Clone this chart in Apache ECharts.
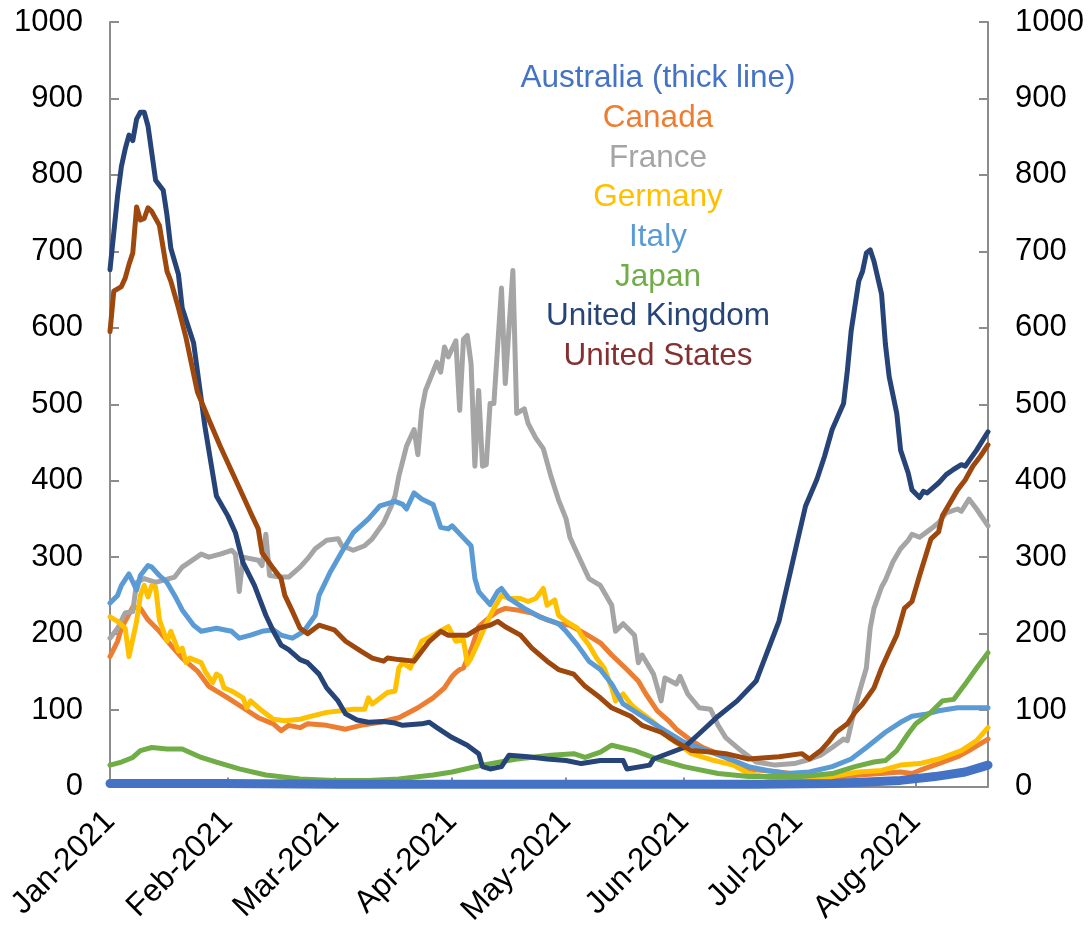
<!DOCTYPE html>
<html>
<head>
<meta charset="utf-8">
<script src="https://cdn.jsdelivr.net/npm/echarts@6/dist/echarts.min.js"></script>
<style>
html,body{margin:0;padding:0;background:#fff;}
#chart{width:1089px;height:929px;}
</style>
</head>
<body>
<div id="chart"></div>
<script>
// x values are day offsets from 1 Jan 2021
const monthStarts = [0, 31, 59, 90, 120, 151, 181, 212];
const monthLabels = ['Jan-2021','Feb-2021','Mar-2021','Apr-2021','May-2021','Jun-2021','Jul-2021','Aug-2021'];
const yTicks = [0,100,200,300,400,500,600,700,800,900,1000];

const seriesNames = ['Australia','Canada','France','Germany','Italy','Japan','United Kingdom','United States'];
const legendLabels = ['Australia (thick line)','Canada','France','Germany','Italy','Japan','United Kingdom','United States'];

const australia = [[0,4],[30,4],[60,3],[90,3],[120,3],[150,3],[170,3],[190,4],[199,6],[208,8],[217,13],[225,19],[231,28]];

const canada = [[0,170],[2,190],[3,207],[6,235],[8,233],[10,218],[13,203],[16,185],[19,168],[23,151],[26,131],[31,116],[35,103],[39,90],[43,82],[45,73],[47,80],[50,77],[52,82],[57,80],[62,75],[66,80],[71,84],[76,90],[81,103],[85,116],[88,129],[90,144],[91,149],[92,153],[93,155],[95,179],[97,209],[100,222],[102,229],[104,233],[107,231],[111,227],[115,218],[118,213],[121,211],[125,200],[129,188],[132,172],[136,153],[139,138],[141,121],[144,99],[147,86],[149,75],[153,60],[156,51],[161,41],[164,32],[168,23],[176,19],[182,15],[187,12],[192,12],[197,15],[203,17],[208,19],[211,17],[213,21],[218,30],[223,39],[226,47],[231,62]];

const france = [[0,194],[2,207],[4,227],[6,229],[7,267],[9,272],[12,267],[17,274],[19,287],[24,304],[26,300],[29,304],[32,309],[33,304],[34,255],[35,300],[39,296],[40,289],[41,330],[42,276],[45,274],[47,274],[50,287],[52,298],[54,311],[57,322],[60,324],[61,315],[64,309],[67,315],[69,324],[72,345],[74,367],[75,380],[76,406],[78,445],[80,467],[81,434],[82,492],[83,518],[86,555],[87,542],[88,575],[89,562],[91,583],[92,492],[93,585],[94,590],[95,553],[96,419],[97,518],[98,419],[99,421],[100,501],[101,501],[103,652],[104,527],[106,675],[107,488],[109,494],[110,475],[112,456],[114,442],[116,406],[118,375],[120,350],[121,326],[122,315],[126,272],[129,263],[132,237],[133,203],[135,213],[138,198],[139,162],[140,172],[143,147],[145,112],[146,142],[149,134],[150,144],[152,121],[155,103],[158,101],[160,80],[162,64],[166,47],[170,32],[175,28],[180,30],[183,34],[187,41],[190,51],[193,62],[194,60],[196,103],[197,121],[199,155],[200,207],[201,233],[203,261],[204,270],[206,294],[208,311],[210,322],[211,330],[213,326],[216,337],[218,345],[220,358],[223,363],[224,360],[226,376],[228,363],[231,341]];

const germany = [[0,222],[2,216],[4,207],[5,170],[7,216],[8,250],[9,263],[10,248],[11,263],[12,261],[13,218],[15,190],[16,203],[18,177],[19,181],[20,162],[21,168],[24,162],[25,151],[27,136],[28,147],[29,144],[30,129],[32,125],[35,116],[36,103],[37,112],[40,99],[43,88],[46,86],[50,88],[53,92],[57,97],[64,101],[67,101],[68,116],[69,108],[73,123],[75,125],[76,155],[77,162],[79,155],[82,190],[85,198],[89,209],[91,190],[93,192],[94,160],[95,168],[97,190],[99,213],[101,233],[103,250],[105,246],[108,246],[110,242],[112,246],[114,259],[115,237],[117,244],[118,224],[120,216],[123,207],[124,198],[126,185],[128,168],[130,155],[132,129],[133,112],[135,121],[137,108],[138,103],[141,92],[144,80],[147,64],[150,54],[153,43],[159,34],[164,28],[168,17],[176,9],[182,7],[187,10],[192,15],[197,19],[203,21],[208,28],[213,30],[218,36],[224,47],[228,60],[231,77]];

const italy = [[0,240],[2,250],[3,263],[5,278],[7,257],[8,276],[10,289],[11,287],[13,276],[15,267],[17,250],[19,231],[22,211],[24,203],[26,205],[28,207],[32,203],[34,194],[37,198],[40,203],[43,205],[45,198],[48,194],[51,203],[54,224],[55,250],[58,281],[61,307],[64,332],[68,350],[71,367],[75,373],[77,369],[78,363],[80,384],[82,376],[85,369],[87,339],[89,337],[90,341],[94,320],[95,315],[96,272],[97,255],[100,238],[102,255],[103,259],[105,246],[109,233],[113,222],[118,213],[120,203],[123,185],[126,164],[129,153],[132,134],[135,108],[140,92],[146,73],[151,58],[157,47],[164,34],[168,26],[173,21],[178,17],[184,19],[190,26],[195,36],[199,51],[204,71],[208,84],[211,92],[215,95],[218,99],[223,103],[227,103],[231,103]];

const japan = [[0,28],[3,32],[6,38],[8,47],[11,51],[15,49],[19,49],[24,38],[28,32],[34,23],[41,15],[50,10],[59,8],[68,8],[76,10],[85,15],[90,19],[98,28],[107,36],[116,41],[122,43],[125,38],[129,45],[132,54],[138,47],[144,36],[151,26],[160,17],[168,13],[176,13],[182,13],[190,17],[196,26],[201,32],[204,34],[207,47],[210,69],[212,82],[216,97],[219,112],[222,114],[225,134],[228,155],[231,175]];

const uk = [[0,676],[2,773],[3,811],[4,834],[5,852],[6,845],[7,873],[8,882],[9,882],[10,864],[12,793],[14,780],[15,747],[16,704],[18,670],[19,626],[22,580],[25,470],[28,380],[31,354],[33,332],[35,293],[38,263],[41,224],[43,203],[45,185],[47,179],[50,166],[52,162],[55,147],[57,129],[60,112],[62,95],[65,87],[68,84],[72,85],[75,83],[77,80],[82,82],[84,84],[86,77],[90,64],[94,54],[97,43],[98,26],[100,23],[103,26],[105,41],[110,39],[115,36],[120,34],[124,30],[129,34],[135,34],[136,23],[142,28],[143,36],[151,51],[155,69],[160,92],[165,112],[170,138],[172,164],[174,190],[176,216],[178,259],[181,324],[183,367],[186,402],[188,432],[190,467],[193,501],[194,544],[195,596],[197,661],[198,674],[199,698],[200,702],[201,687],[203,644],[204,579],[205,536],[207,488],[208,440],[210,410],[211,388],[213,378],[214,386],[215,384],[218,397],[220,408],[222,415],[224,421],[225,419],[228,440],[231,464]];

const us = [[0,595],[1,648],[3,654],[4,665],[5,683],[6,698],[7,758],[8,741],[9,743],[10,757],[11,752],[13,734],[14,704],[15,674],[16,661],[18,626],[20,587],[23,516],[26,480],[29,445],[35,380],[37,358],[39,337],[40,306],[43,285],[45,272],[46,250],[48,229],[50,207],[52,200],[55,211],[59,205],[62,190],[66,177],[69,168],[72,164],[73,168],[76,166],[80,164],[82,177],[84,190],[87,203],[89,198],[94,198],[97,207],[100,211],[102,216],[104,209],[108,198],[111,181],[115,164],[118,153],[122,147],[125,131],[129,116],[132,103],[137,92],[140,80],[145,71],[149,58],[153,47],[158,45],[162,43],[168,36],[176,39],[182,43],[184,36],[187,47],[189,58],[191,71],[194,82],[196,97],[198,108],[201,129],[203,155],[205,177],[207,198],[209,233],[211,242],[213,276],[216,324],[218,333],[219,354],[221,371],[223,388],[225,401],[227,419],[229,432],[231,447]];

const seriesData = [australia, canada, france, germany, italy, japan, uk, us];
const lineColors = ['#4472C4','#ED7D31','#A5A5A5','#FFC000','#5B9BD5','#70AD47','#264478','#9E480E'];
const textColors = ['#4472C4','#ED7D31','#A5A5A5','#FFC000','#5B9BD5','#70AD47','#264478','#843030'];
const lineWidths = [9,5,5,5,5,5,5,5];
const drawOrder = [1,2,3,4,5,6,7,0];

const FONT = 'Liberation Sans, Arial, sans-serif';
const axisGray = '#8c8c8c';

const chart = echarts.init(document.getElementById('chart'), null, {renderer:'canvas'});

const series = drawOrder.map((i, k) => ({
  name: seriesNames[i],
  type: 'line',
  data: seriesData[i],
  showSymbol: false,
  symbol: 'none',
  smooth: false,
  clip: false,
  z: 2 + k,
  lineStyle: { color: lineColors[i], width: lineWidths[i], join: 'round', cap: 'round' },
  itemStyle: { color: lineColors[i] },
  yAxisIndex: 0
}));

const yAxisCommon = {
  type: 'value', min: 0, max: 1000, interval: 100,
  splitLine: { show: false },
  axisLine: { show: true, lineStyle: { color: axisGray, width: 2 } },
  axisTick: { show: true, inside: true, length: 9, lineStyle: { color: axisGray, width: 2 } },
  axisLabel: { color: '#000', fontSize: 31, fontFamily: FONT, margin: 27, formatter: v => String(v) }
};

const option = {
  animation: false,
  backgroundColor: '#fff',
  grid: { left: 110, right: 101, top: 22, bottom: 136, containLabel: false },
  xAxis: {
    type: 'value', min: 0, max: 231,
    splitLine: { show: false },
    axisLine: { show: true, onZero: false, lineStyle: { color: axisGray, width: 2 } },
    axisTick: { show: true, inside: true, length: 9, customValues: monthStarts, lineStyle: { color: axisGray, width: 2 } },
    axisLabel: {
      customValues: monthStarts,
      rotate: 45,
      margin: 30,
      color: '#000', fontSize: 31.5, fontFamily: FONT,
      formatter: v => monthLabels[monthStarts.indexOf(Math.round(v))] || ''
    }
  },
  yAxis: [
    Object.assign({ position: 'left' }, yAxisCommon),
    Object.assign({ position: 'right' }, yAxisCommon)
  ],
  graphic: legendLabels.map((t, i) => ({
    type: 'text',
    x: 658,
    y: 78.5 + i * 39.7,
    z: 100,
    style: {
      text: t,
      fill: textColors[i],
      font: '31.5px ' + FONT,
      align: 'center',
      verticalAlign: 'middle'
    }
  })),
  series: series
};

chart.setOption(option);
</script>
</body>
</html>
